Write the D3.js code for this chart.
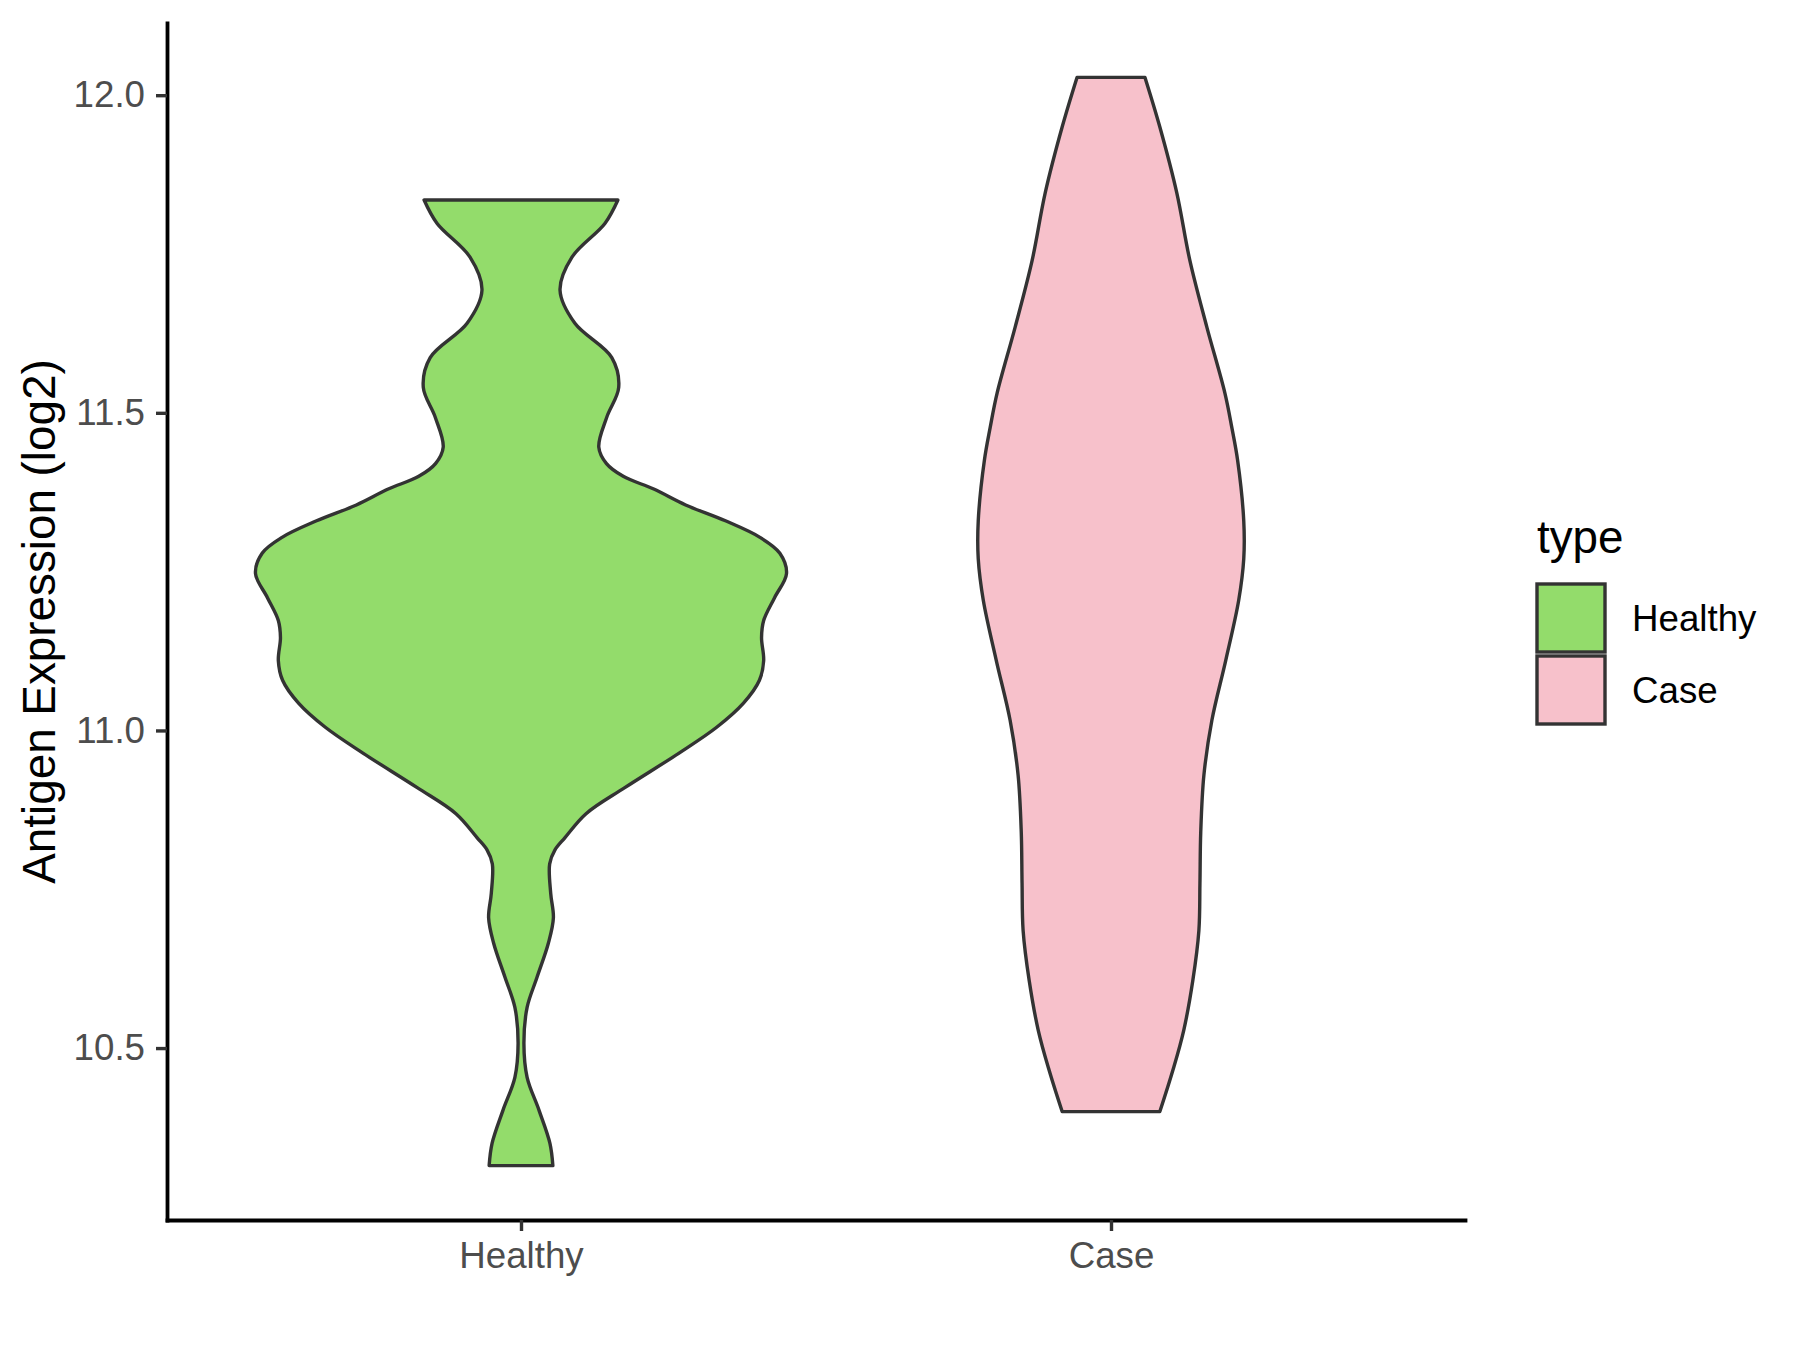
<!DOCTYPE html>
<html>
<head>
<meta charset="utf-8">
<script src="https://cdn.jsdelivr.net/npm/d3@7"></script>
<style>
  html, body { margin: 0; padding: 0; background: #ffffff; }
  svg { display: block; font-family: "Liberation Sans", Arial, sans-serif; }
</style>
</head>
<body>
<svg id="chart" width="1800" height="1350"></svg>
<script>
// ---- data ----
const categories = ["Healthy", "Case"];
const fillColors = ["#93DC6B", "#F7C1CB"];

// Healthy violin: expression values and relative density (outline half-width)
const healthyValues = [11.835, 11.798, 11.745, 11.693, 11.641, 11.587, 11.540, 11.493, 11.446, 11.420,
  11.400, 11.380, 11.355, 11.330, 11.304, 11.279, 11.247, 11.209, 11.173, 11.146, 11.110,
  11.079, 11.043, 11.005, 10.964, 10.910, 10.869, 10.831, 10.812, 10.790, 10.743, 10.705,
  10.665, 10.611, 10.564, 10.507, 10.454, 10.402, 10.350, 10.315];
const healthyDensity = [0.365, 0.316, 0.192, 0.147, 0.203, 0.342, 0.368, 0.323, 0.293, 0.322,
  0.385, 0.500, 0.620, 0.770, 0.900, 0.975, 1.000, 0.955, 0.914, 0.906, 0.914,
  0.898, 0.838, 0.737, 0.594, 0.391, 0.245, 0.165, 0.128, 0.108, 0.112, 0.122,
  0.103, 0.060, 0.023, 0.011, 0.023, 0.068, 0.109, 0.120];

// Case violin
const caseValues = [12.028, 11.950, 11.846, 11.740, 11.635, 11.531, 11.477, 11.425, 11.330, 11.270,
  11.205, 11.110, 11.016, 10.930, 10.840, 10.760, 10.685, 10.606, 10.528, 10.465, 10.400];
const caseDensity = [0.128, 0.184, 0.248, 0.297, 0.361, 0.429, 0.455, 0.477, 0.500, 0.500,
  0.481, 0.432, 0.380, 0.350, 0.338, 0.335, 0.331, 0.308, 0.274, 0.233, 0.184];

const yTicks = [10.5, 11.0, 11.5, 12.0];
const yTitle = "Antigen Expression (log2)";
const legendTitle = "type";

// ---- layout ----
const svg = d3.select("#chart");
const panel = { left: 167, right: 1465, top: 23, bottom: 1220 };

const allVals = healthyValues.concat(caseValues);
const vmin = d3.min(allVals), vmax = d3.max(allVals);
const pad = (vmax - vmin) * 0.05;
const y = d3.scaleLinear().domain([vmin - pad, vmax + pad]).range([panel.bottom, panel.top]);
const x = d3.scalePoint().domain(categories).range([panel.left, panel.right]).padding(0.6);

const maxDens = d3.max(healthyDensity.concat(caseDensity));
const halfW = d3.scaleLinear().domain([0, maxDens]).range([0, 0.45 * x.step()]);

const series = [
  { name: "Healthy", values: healthyValues, dens: healthyDensity, fill: fillColors[0] },
  { name: "Case", values: caseValues, dens: caseDensity, fill: fillColors[1] }
];

series.forEach(s => {
  const pts = s.values.map((v, i) => ({ v: v, d: s.dens[i] }));
  const cx = x(s.name);
  const area = d3.area()
    .y(p => y(p.v))
    .x0(p => cx - halfW(p.d))
    .x1(p => cx + halfW(p.d))
    .curve(d3.curveCatmullRom.alpha(0.5));
  svg.append("path")
    .attr("d", area(pts))
    .attr("fill", s.fill)
    .attr("stroke", "#333333")
    .attr("stroke-width", 3.4)
    .attr("stroke-linejoin", "round");
});

// ---- axes ----
const yAxis = svg.append("g")
  .attr("transform", `translate(${panel.left},0)`)
  .call(d3.axisLeft(y).tickValues(yTicks).tickFormat(d3.format(".1f"))
    .tickSize(11).tickSizeOuter(0).tickPadding(11));
yAxis.select(".domain").attr("stroke", "#000").attr("stroke-width", 3.8).attr("stroke-linecap", "square");
yAxis.selectAll(".tick line").attr("stroke", "#333333").attr("stroke-width", 3.4);
yAxis.selectAll(".tick text").attr("fill", "#4D4D4D").style("font-size", "36.7px")
  .style("font-family", "'Liberation Sans', Arial, sans-serif");

const xAxis = svg.append("g")
  .attr("transform", `translate(0,${panel.bottom})`)
  .call(d3.axisBottom(x).tickSize(11).tickSizeOuter(0).tickPadding(11));
xAxis.select(".domain").attr("stroke", "#000").attr("stroke-width", 3.8).attr("stroke-linecap", "square");
xAxis.selectAll(".tick line").attr("stroke", "#333333").attr("stroke-width", 3.4);
xAxis.selectAll(".tick text").attr("fill", "#4D4D4D").style("font-size", "36.7px")
  .style("font-family", "'Liberation Sans', Arial, sans-serif");

// y title
svg.append("text")
  .attr("transform", `translate(55,${(panel.top + panel.bottom) / 2}) rotate(-90)`)
  .attr("text-anchor", "middle")
  .attr("fill", "#000")
  .style("font-size", "45.8px")
  .text(yTitle);

// ---- legend ----
const lg = svg.append("g");
lg.append("text").attr("x", 1537).attr("y", 553).attr("fill", "#000")
  .style("font-size", "45.8px").text(legendTitle);
series.forEach((s, i) => {
  const top = 584 + i * 72;
  lg.append("rect").attr("x", 1537).attr("y", top).attr("width", 68).attr("height", 68)
    .attr("fill", s.fill).attr("stroke", "#333333").attr("stroke-width", 3.4);
  lg.append("text").attr("x", 1632).attr("y", top + 34).attr("dy", "0.35em")
    .attr("fill", "#000").style("font-size", "36.7px").text(s.name);
});
</script>
</body>
</html>
